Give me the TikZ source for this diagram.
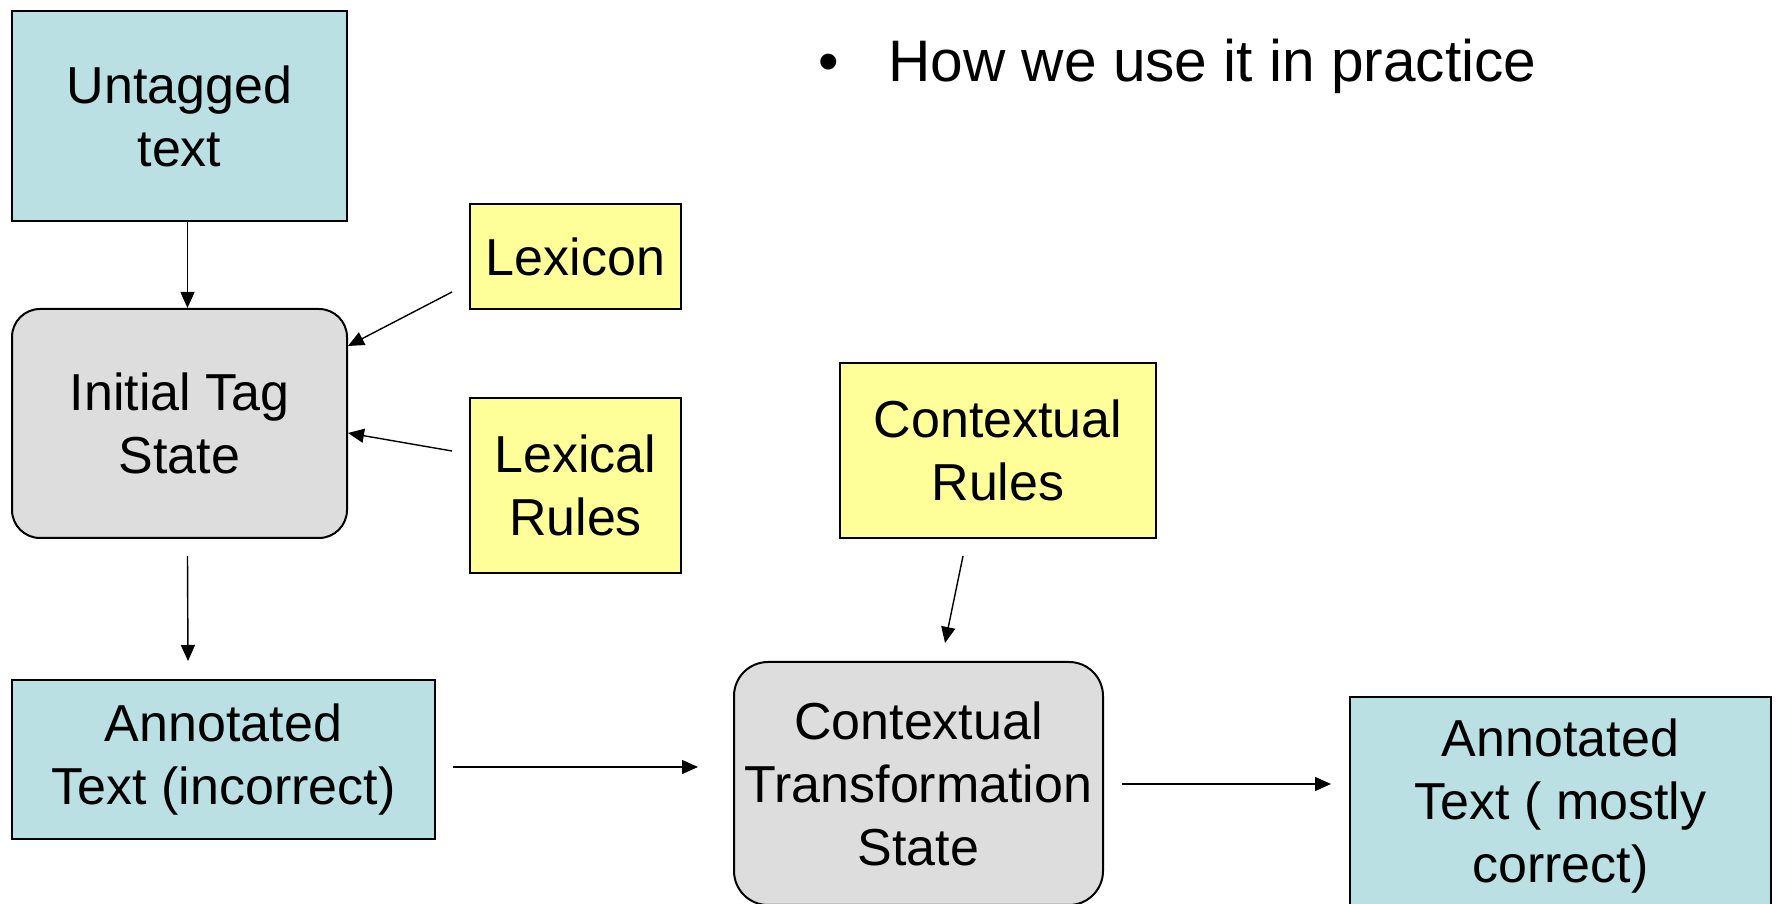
\documentclass[tikz,border=0pt]{standalone}
\usepackage{fontspec}
\setmainfont{Liberation Sans}
\usetikzlibrary{calc,arrows.meta}
\definecolor{tagcyan}{RGB}{187,224,227}
\definecolor{taggray}{RGB}{221,221,221}
\definecolor{tagyellow}{RGB}{255,255,153}

\begin{document}
\begin{tikzpicture}[x=0.5pt, y=0.5pt, >={Triangle[length=8pt,width=7pt]},
  every node/.style={inner sep=0pt, align=center, font=\fontsize{26}{31.5}\selectfont},
  textbox/.style={draw=black, line width=1pt, fill=tagcyan},
  statebox/.style={draw=black, line width=1pt, fill=taggray, rounded corners=14pt},
  rulebox/.style={draw=black, line width=1pt, fill=tagyellow},
  flow/.style={->, line width=0.7pt}]
  \useasboundingbox (0,0) rectangle (1777,904);
  \fill[white] (0,0) rectangle (1777,904);
  % heading
  \node[anchor=base west, font=\fontsize{29.3}{34}\selectfont] (bul) at (818,822) {•};
  \node[anchor=base west, font=\fontsize{29.3}{34}\selectfont] (head) at (888,822) {How we use it in practice};
  % boxes
  \node[textbox, minimum width=167.5pt, minimum height=105pt] (untag) at (179.5,788) {Untagged\\ text};
  \node[statebox, minimum width=167.5pt, minimum height=114.5pt] (init) at (179.5,480.5) {Initial Tag\\ State};
  \node[rulebox, minimum width=105.5pt, minimum height=52.5pt] (lex) at (575.5,647.5) {Lexicon};
  \node[rulebox, minimum width=105.5pt, minimum height=87.5pt] (lexr) at (575.5,418.5) {Lexical\\ Rules};
  \node[rulebox, minimum width=158pt, minimum height=87.5pt] (ctxr) at (998,453.5) {Contextual\\ Rules};
  \node[textbox, minimum width=211.5pt, minimum height=79.5pt] (annA) at (223.5,144.5) {Annotated\\ Text (incorrect)};
  \node[statebox, rounded corners=17pt, minimum width=184.5pt, minimum height=121.5pt] (cts) at (918.5,120.5) {Contextual\\ Transformation\\ State};
  \node[textbox, minimum width=210.5pt, minimum height=109pt] (annB) at (1560.5,98) {Annotated\\ Text ( mostly\\ correct)};
  % connectors
  \draw[flow] ($(untag.south)+(8,0)$) -- ($(init.north)+(8,0)$);
  \draw[flow] ($(lex.west)+(-17,-35.5)$) -- ($(init.north east)+(0,-38)$);
  \draw[flow] ($(lexr.west)+(-17,34.5)$) -- ($(init.east)+(0,-9.5)$);
  \draw[flow] ($(init.south)+(8,-17)$) -- ($(annA.north)+(-35.5,18)$);
  \draw[flow] ($(ctxr.south)+(-35,-17)$) -- ($(cts.north)+(26.5,18)$);
  \draw[flow] ($(annA.east)+(17,-7.5)$) -- ($(cts.west)+(-35,16.5)$);
  \draw[flow] ($(cts.east)+(18,-0.5)$) -- ($(annB.west)+(-18,22)$);
\end{tikzpicture}
\end{document}
